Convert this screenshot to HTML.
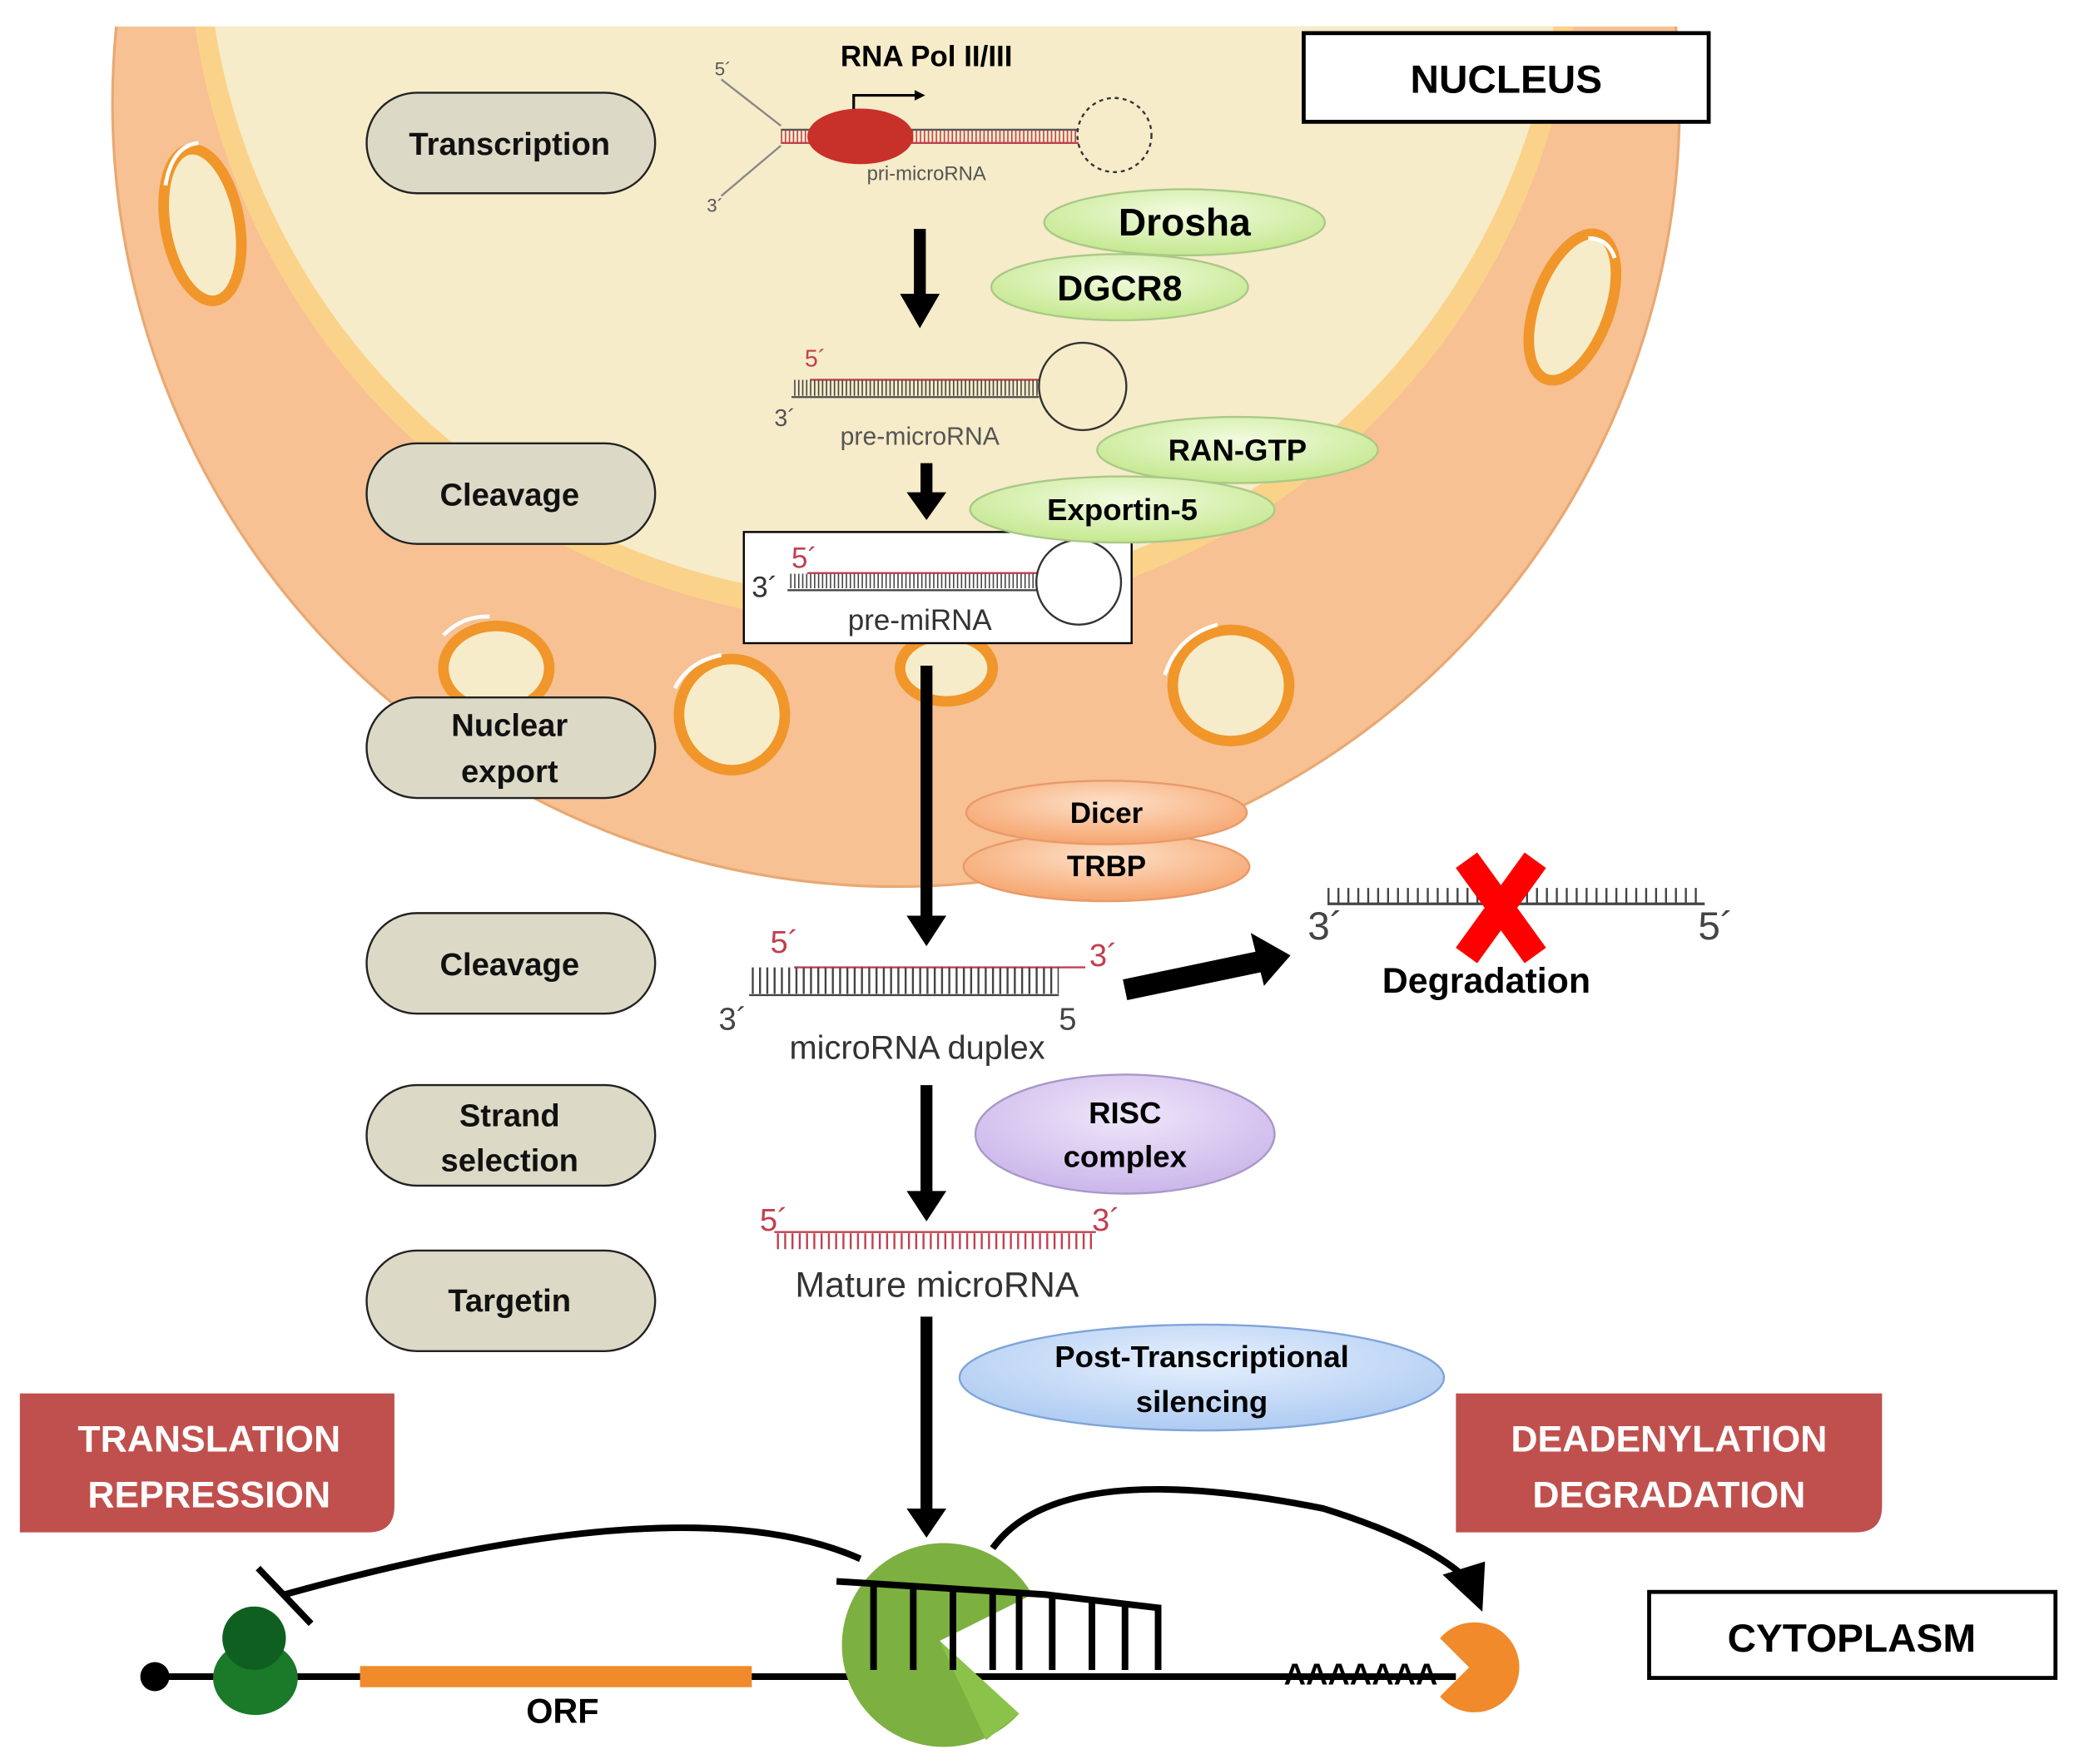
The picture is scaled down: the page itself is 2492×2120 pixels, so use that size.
<!DOCTYPE html>
<html><head><meta charset="utf-8"><style>
html,body{margin:0;padding:0;background:#fff;}
svg{display:block;}
text{font-family:"Liberation Sans",sans-serif;}
.b{font-weight:bold;}
</style></head><body>
<svg width="2492" height="2120" viewBox="0 0 1567 1333" xmlns="http://www.w3.org/2000/svg">
<defs>
<radialGradient id="gg" cx="50%" cy="35%" r="65%"><stop offset="0" stop-color="#f2fbe0"/><stop offset="1" stop-color="#c4e88e"/></radialGradient>
<radialGradient id="og" cx="50%" cy="35%" r="65%"><stop offset="0" stop-color="#fde0c8"/><stop offset="1" stop-color="#f6a56e"/></radialGradient>
<radialGradient id="pg" cx="50%" cy="35%" r="65%"><stop offset="0" stop-color="#efe6fa"/><stop offset="1" stop-color="#cbb6ea"/></radialGradient>
<radialGradient id="bg" cx="50%" cy="35%" r="65%"><stop offset="0" stop-color="#e6f0fd"/><stop offset="1" stop-color="#aecbf2"/></radialGradient>
<clipPath id="top"><rect x="0" y="20" width="1567" height="1313"/></clipPath>
<marker id="ah" markerWidth="4" markerHeight="4" refX="2" refY="2" orient="auto" markerUnits="strokeWidth"><path d="M0,0 L4,2 L0,4 z" fill="#000"/></marker>
</defs>
<g clip-path="url(#top)">
<circle cx="677" cy="78" r="592" fill="#f7c193" stroke="#e9a872" stroke-width="2"/>
<circle cx="668" cy="-55" r="526" fill="#fbd28a"/>
<circle cx="668" cy="-60" r="512" fill="#f6ecc9"/>
</g>
<!-- pores -->
<g fill="#f6ecc9" stroke="#f0962a" stroke-width="8">
<ellipse cx="153" cy="170" rx="28" ry="58" transform="rotate(-10 153 170)"/>
<ellipse cx="1188" cy="232" rx="28" ry="58" transform="rotate(20 1188 232)"/>
<ellipse cx="375" cy="505" rx="40" ry="32"/>
<ellipse cx="553" cy="540" rx="40" ry="42"/>
<ellipse cx="930" cy="518" rx="44" ry="42"/>
<ellipse cx="715" cy="505" rx="35" ry="25"/>
</g>
<g fill="none" stroke="#fff" stroke-width="3">
<path d="M125,140 Q130,110 150,108"/>
<path d="M1200,180 Q1215,180 1220,195"/>
<path d="M335,480 Q350,465 370,466"/>
<path d="M510,520 Q520,500 545,495"/>
<path d="M880,510 Q890,480 920,472"/>
</g>
<!-- pills -->
<g fill="#dcd9c6" stroke="#222" stroke-width="1.5">
<rect x="277" y="70" width="218" height="76" rx="38"/>
<rect x="277" y="335" width="218" height="76" rx="38"/>
<rect x="277" y="527" width="218" height="76" rx="38"/>
<rect x="277" y="690" width="218" height="76" rx="38"/>
<rect x="277" y="820" width="218" height="76" rx="38"/>
<rect x="277" y="945" width="218" height="76" rx="38"/>
</g>
<g class="b" font-size="24" text-anchor="middle" fill="#111">
<text x="385" y="117">Transcription</text>
<text x="385" y="382">Cleavage</text>
<text x="385" y="556">Nuclear</text><text x="385" y="591">export</text>
<text x="385" y="737">Cleavage</text>
<text x="385" y="851">Strand</text><text x="385" y="885">selection</text>
<text x="385" y="991">Targetin</text>
</g>
<rect x="985" y="25" width="306" height="67" fill="#fff" stroke="#000" stroke-width="3"/>
<text x="1138" y="70" class="b" font-size="30" text-anchor="middle">NUCLEUS</text>
<rect x="1246" y="1203" width="307" height="65" fill="#fff" stroke="#000" stroke-width="3"/>
<text x="1399" y="1248" class="b" font-size="30" text-anchor="middle">CYTOPLASM</text>
<!-- pri-miRNA -->
<text x="700" y="50" class="b" font-size="22" text-anchor="middle">RNA Pol II/III</text>
<path d="M645,95 V72 H695" fill="none" stroke="#000" stroke-width="2" marker-end="url(#ah)"/>
<path d="M545,60 L590,95 M545,148 L590,110" stroke="#888" stroke-width="1.5" fill="none"/>
<line x1="590" y1="98" x2="815" y2="98" stroke="#555" stroke-width="1.5"/>
<line x1="590" y1="108" x2="815" y2="108" stroke="#c04050" stroke-width="1.5"/>
<line x1="590" y1="103" x2="815" y2="103" stroke="#c04050" stroke-width="9" stroke-dasharray="1 2"/>
<circle cx="842" cy="102" r="28" fill="none" stroke="#333" stroke-width="1.5" stroke-dasharray="3 3"/>
<ellipse cx="650" cy="103" rx="40" ry="21" fill="#c8302a"/>
<text x="540" y="57" font-size="14" fill="#555">5´</text><text x="534" y="160" font-size="14" fill="#555">3´</text>
<text x="700" y="136" font-size="15" text-anchor="middle" fill="#555">pri-microRNA</text>
<!-- pre-microRNA -->
<line x1="598" y1="300" x2="785" y2="300" stroke="#555" stroke-width="1.5"/>
<line x1="612" y1="287" x2="785" y2="287" stroke="#c04050" stroke-width="1.5"/>
<line x1="600" y1="293" x2="785" y2="293" stroke="#444" stroke-width="12" stroke-dasharray="1 2"/>
<circle cx="818" cy="292" r="33" fill="none" stroke="#333" stroke-width="1.5"/>
<text x="608" y="277" font-size="18" fill="#c04050">5´</text><text x="585" y="322" font-size="18" fill="#555">3´</text>
<text x="695" y="336" font-size="19" text-anchor="middle" fill="#555">pre-microRNA</text>
<!-- pre-miRNA box -->
<rect x="562" y="402" width="293" height="84" fill="#fff" stroke="#000" stroke-width="1.5"/>
<line x1="595" y1="446" x2="785" y2="446" stroke="#444" stroke-width="1.5"/>
<line x1="610" y1="433" x2="785" y2="433" stroke="#c04050" stroke-width="1.5"/>
<line x1="597" y1="439" x2="785" y2="439" stroke="#444" stroke-width="11" stroke-dasharray="1 2"/>
<circle cx="815" cy="440" r="32" fill="#fff" stroke="#333" stroke-width="1.5"/>
<text x="598" y="429" font-size="22" fill="#c04050">5´</text><text x="568" y="451" font-size="22" fill="#333">3´</text>
<text x="695" y="476" font-size="22" text-anchor="middle" fill="#333">pre-miRNA</text>
<g stroke="#aac888" stroke-width="1.5">
<ellipse cx="895" cy="168" rx="106" ry="25" fill="url(#gg)"/>
<ellipse cx="846" cy="217" rx="97" ry="25" fill="url(#gg)"/>
<ellipse cx="935" cy="340" rx="106" ry="25" fill="url(#gg)"/>
<ellipse cx="848" cy="385" rx="115" ry="25" fill="url(#gg)"/>
</g>
<text x="895" y="178" class="b" font-size="29" text-anchor="middle">Drosha</text>
<text x="846" y="227" class="b" font-size="27" text-anchor="middle">DGCR8</text>
<text x="935" y="348" class="b" font-size="23" text-anchor="middle">RAN-GTP</text>
<text x="848" y="393" class="b" font-size="23" text-anchor="middle">Exportin-5</text>
<g stroke="#e89a6a" stroke-width="1.5">
<ellipse cx="836" cy="655" rx="108" ry="26" fill="url(#og)"/>
<ellipse cx="836" cy="614" rx="106" ry="24" fill="url(#og)"/>
</g>
<text x="836" y="622" class="b" font-size="22" text-anchor="middle">Dicer</text>
<text x="836" y="662" class="b" font-size="22" text-anchor="middle">TRBP</text>
<ellipse cx="850" cy="857" rx="113" ry="45" fill="url(#pg)" stroke="#a898c8" stroke-width="1.5"/>
<text x="850" y="849" class="b" font-size="23" text-anchor="middle">RISC</text>
<text x="850" y="882" class="b" font-size="23" text-anchor="middle">complex</text>
<ellipse cx="908" cy="1041" rx="183" ry="40" fill="url(#bg)" stroke="#7fa4d8" stroke-width="1.5"/>
<text x="908" y="1033" class="b" font-size="23" text-anchor="middle">Post-Transcriptional</text>
<text x="908" y="1067" class="b" font-size="23" text-anchor="middle">silencing</text>
<g stroke="#000" stroke-width="9">
<line x1="695" y1="173" x2="695" y2="225"/>
<line x1="700" y1="350" x2="700" y2="375"/>
<line x1="700" y1="503" x2="700" y2="695"/>
<line x1="700" y1="820" x2="700" y2="903"/>
<line x1="700" y1="995" x2="700" y2="1143"/>
</g>
<g fill="#000">
<path d="M680,222 L710,222 L695,248 z"/>
<path d="M685,372 L715,372 L700,393 z"/>
<path d="M685,692 L715,692 L700,715 z"/>
<path d="M685,900 L715,900 L700,923 z"/>
<path d="M685,1140 L715,1140 L700,1162 z"/>
</g>
<line x1="566" y1="752" x2="800" y2="752" stroke="#444" stroke-width="1.5"/>
<line x1="600" y1="731" x2="820" y2="731" stroke="#c04050" stroke-width="1.5"/>
<line x1="568" y1="741" x2="800" y2="741" stroke="#444" stroke-width="20" stroke-dasharray="1.5 4"/>
<text x="582" y="720" font-size="24" fill="#c04050">5´</text><text x="823" y="730" font-size="24" fill="#c04050">3´</text>
<text x="543" y="778" font-size="24" fill="#444">3´</text><text x="800" y="778" font-size="24" fill="#444">5</text>
<text x="693" y="800" font-size="25" text-anchor="middle" fill="#333">microRNA duplex</text>
<line x1="850" y1="748" x2="955" y2="726" stroke="#000" stroke-width="16"/>
<path d="M945,705 L975,722 L955,745 z" fill="#000"/>
<line x1="1003" y1="683" x2="1288" y2="683" stroke="#444" stroke-width="2"/>
<line x1="1003" y1="677" x2="1288" y2="677" stroke="#444" stroke-width="12" stroke-dasharray="1.5 6"/>
<text x="988" y="710" font-size="30" fill="#444">3´</text><text x="1283" y="710" font-size="30" fill="#444">5´</text>
<path d="M1108,650 L1160,722 M1160,650 L1108,722" stroke="#f00" stroke-width="20"/>
<text x="1123" y="750" class="b" font-size="27" text-anchor="middle">Degradation</text>
<line x1="585" y1="931" x2="828" y2="931" stroke="#c04050" stroke-width="1.5"/>
<line x1="587" y1="938" x2="828" y2="938" stroke="#c04050" stroke-width="12" stroke-dasharray="1.5 4"/>
<text x="574" y="930" font-size="24" fill="#c04050">5´</text><text x="825" y="930" font-size="24" fill="#c04050">3´</text>
<text x="708" y="980" font-size="27" text-anchor="middle" fill="#333">Mature microRNA</text>
<path d="M15,1053 H298 V1138 Q298,1158 278,1158 H15 z" fill="#c0504d"/>
<text x="158" y="1097" class="b" font-size="28" text-anchor="middle" fill="#fff">TRANSLATION</text>
<text x="158" y="1139" class="b" font-size="28" text-anchor="middle" fill="#fff">REPRESSION</text>
<path d="M1100,1053 H1422 V1138 Q1422,1158 1402,1158 H1100 z" fill="#c0504d"/>
<text x="1261" y="1097" class="b" font-size="28" text-anchor="middle" fill="#fff">DEADENYLATION</text>
<text x="1261" y="1139" class="b" font-size="28" text-anchor="middle" fill="#fff">DEGRADATION</text>
<line x1="117" y1="1267" x2="1100" y2="1267" stroke="#000" stroke-width="5"/>
<circle cx="117" cy="1267" r="11" fill="#000"/>
<rect x="272" y="1259" width="296" height="16" fill="#f08a2a"/>
<text x="425" y="1302" class="b" font-size="26" text-anchor="middle">ORF</text>
<text x="970" y="1273" class="b" font-size="23">AAAAAAA</text>
<ellipse cx="193" cy="1268" rx="32" ry="28" fill="#1a7a2a"/>
<ellipse cx="192" cy="1238" rx="24" ry="24" fill="#0f6020"/>
<path d="M650,1178 Q520,1120 215,1205" fill="none" stroke="#000" stroke-width="5"/>
<line x1="195" y1="1185" x2="235" y2="1227" stroke="#000" stroke-width="5"/>
<path d="M710,1240 L780,1205 A77,77 0 1,0 770,1295 z" fill="#7cb040"/>
<path d="M710,1240 L770,1295 L745,1315 z" fill="#8bc34a"/>
<g stroke="#000" stroke-width="5" fill="none">
<path d="M632,1195 L790,1205 L875,1215 L875,1262"/>
<line x1="660" y1="1197" x2="660" y2="1262"/>
<line x1="690" y1="1199" x2="690" y2="1262"/>
<line x1="720" y1="1201" x2="720" y2="1262"/>
<line x1="750" y1="1203" x2="750" y2="1262"/>
<line x1="770" y1="1205" x2="770" y2="1262"/>
<line x1="795" y1="1207" x2="795" y2="1262"/>
<line x1="825" y1="1210" x2="825" y2="1262"/>
<line x1="850" y1="1213" x2="850" y2="1262"/>
</g>
<path d="M750,1170 Q800,1100 1000,1140 Q1080,1165 1110,1195" fill="none" stroke="#000" stroke-width="5"/>
<path d="M1090,1190 L1120,1218 L1122,1180 z" fill="#000"/>
<path d="M1110,1260 L1088,1238 A34,34 0 1,1 1088,1282 z" fill="#f08a2a"/>
</svg>
</body></html>
